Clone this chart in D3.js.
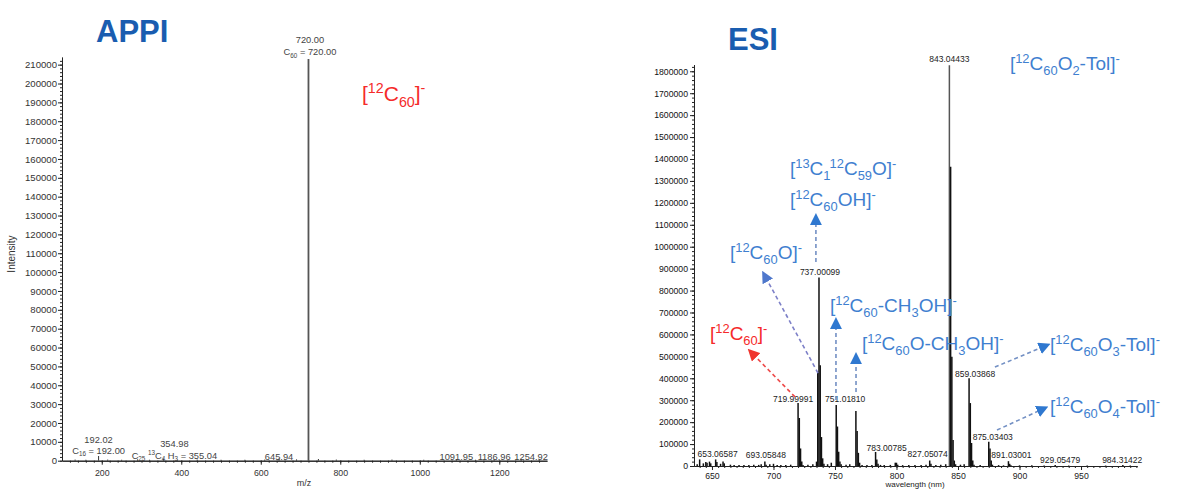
<!DOCTYPE html>
<html>
<head>
<meta charset="utf-8">
<script src="https://cdn.jsdelivr.net/npm/d3@7"></script>
<style>
body { margin: 0; background: #fff; }
svg { display: block; font-family: Arial, "Liberation Sans", sans-serif; }
</style>
</head>
<body>
<svg id="chart" width="1177" height="489"></svg>
<script>
// ---- APPI spectrum ----
var appiMz  = [133, 160, 192.02, 215, 250, 290, 320, 354.98, 390, 440, 500, 560, 610, 645.94, 690, 720.00, 745, 790, 860, 930, 1010, 1091.95, 1140, 1186.96, 1254.92, 1300];
var appiInt = [600, 500, 2500, 600, 500, 700, 500, 1200, 500, 600, 500, 500, 600, 1200, 700, 213000, 900, 600, 500, 600, 500, 900, 500, 900, 900, 500];
var appiTickY = d3.range(0, 210001, 10000);
var appiTickX = [200, 400, 600, 800, 1000, 1200];
var appiPeakMz = [720.00, 192.02, 354.98, 645.94, 1091.95, 1186.96, 1254.92];
var appiPeakText = [
  ["720.00", "C_{60} = 720.00"],
  ["192.02", "C_{16} = 192.00"],
  ["354.98", "C_{25} ^{13}C_{4} H_{3} = 355.04"],
  ["645.94"], ["1091.95"], ["1186.96"], ["1254.92"]
];
var appiIon = "[^{12}C_{60}]^{-}";

// ---- ESI spectrum ----
var esiMz = [638, 640, 643, 645, 646, 648, 649, 653, 654, 657, 659, 660, 665, 668, 672, 676, 680, 684, 688, 690, 693, 694, 697, 700, 703, 706, 710, 714,
  720, 721, 722, 723, 724, 728, 732, 735, 736, 737, 738, 739, 740, 741, 744, 747,
  751, 752, 753, 754, 755, 759, 762, 767, 768, 769, 770, 772, 776, 780, 783, 784, 785, 787, 790, 795,
  799, 800, 801, 805, 810, 815, 820, 824, 827, 828, 832, 836, 840,
  843, 844, 845, 846, 847, 848, 852, 855, 859, 860, 861, 862, 863, 868,
  875, 876, 877, 878, 883, 887, 891, 892, 893, 900, 910, 920, 929, 940, 955, 970, 984, 990];
var esiInt = [8000, 30000, 12000, 18000, 15000, 20000, 12000, 30000, 18000, 10000, 20000, 12000, 6000, 5000, 5000, 4000, 5000, 6000, 5000, 8000, 20000, 6000, 8000, 10000, 5000, 4000, 5000, 6000,
  287000, 219000, 80000, 20000, 5000, 6000, 8000, 20000, 430000, 860000, 460000, 132000, 35000, 10000, 8000, 15000,
  278000, 180000, 65000, 20000, 8000, 6000, 8000, 251000, 160000, 60000, 15000, 5000, 4000, 5000, 64000, 30000, 10000, 5000, 4000, 5000,
  15000, 15000, 6000, 4000, 5000, 4000, 5000, 6000, 25000, 10000, 5000, 6000, 8000,
  1828000, 1365000, 498000, 118000, 25000, 8000, 6000, 8000, 400000, 287000, 105000, 25000, 6000, 5000,
  111000, 80000, 25000, 6000, 4000, 3000, 22000, 10000, 3000, 3000, 3000, 2500, 5000, 2000, 2000, 2000, 4000, 2000];
var esiTickY = d3.range(0, 1800001, 100000);
var esiTickX = [650, 700, 750, 800, 850, 900, 950];
var esiPeakMz   = [843, 737, 720, 751, 783, 827, 859, 875, 891, 929, 984.3, 653, 693];
var esiPeakText = ["843.04433", "737.00099", "719.99991", "751.01810", "783.00785", "827.05074", "859.03868", "875.03403", "891.03001", "929.05479", "984.31422", "653.06587", "693.05848"];

// ESI ion annotations: text, anchor m/z, anchor intensity
var ionText = ["[^{12}C_{60}O_{2}-Tol]^{-}", "[^{13}C_{1}^{12}C_{59}O]^{-}", "[^{12}C_{60}OH]^{-}", "[^{12}C_{60}O]^{-}",
  "[^{12}C_{60}-CH_{3}OH]^{-}", "[^{12}C_{60}O-CH_{3}OH]^{-}", "[^{12}C_{60}]^{-}", "[^{12}C_{60}O_{3}-Tol]^{-}", "[^{12}C_{60}O_{4}-Tol]^{-}"];
var ionMz  = [892.2, 713.4, 713.4, 664.6, 745.9, 771.9, 648.4, 924.8, 924.8];
var ionInt = [1806000, 1327000, 1186000, 944000, 702000, 529000, 575000, 524000, 242000];
var ionKind = ["blue", "blue", "blue", "blue", "blue", "blue", "red", "blue", "blue"];

// arrows: from (m/z, intensity) to (m/z, intensity)
var arrowFromMz  = [717.5, 736.2, 734.5, 750.8, 767.1, 880.0, 881.7];
var arrowFromInt = [315000, 424000, 930000, 301000, 337000, 451000, 164000];
var arrowToMz    = [682.5, 693.1, 734.5, 750.8, 767.1, 920.7, 919.0];
var arrowToInt   = [515000, 866000, 1126000, 652000, 492000, 547000, 260000];
var arrowKind    = ["red", "purple", "blue", "blue", "blue", "blue", "blue"];

var svg = d3.select("#chart");
var colors = { blue: "#3f7fd0", red: "#f52a2a", purple: "#7c7fcc", title: "#1a5db0" };
var lineColors = { red: "#ee4a4a", purple: "#7d80c8", blue: "#7390c4" };
var headColors = { red: "#f0362f", purple: "#4f78cc", blue: "#2f78d0" };

function richText(g, str, x, y, size, color, anchor) {
  var t = g.append("text").attr("x", x).attr("y", y).attr("fill", color)
    .attr("font-size", size).attr("text-anchor", anchor || "start")
    .style("white-space", "pre");
  var re = /([\^_])\{([^}]*)\}|([^\^_]+)/g, m, cur = 0;
  while ((m = re.exec(str))) {
    var shift = 0, fs = size, txt = m[3];
    if (m[1]) {
      txt = m[2];
      fs = size * 0.68;
      shift = m[1] === "^" ? -size * 0.38 : size * 0.27;
    }
    t.append("tspan").attr("font-size", fs).attr("dy", shift - cur).text(txt);
    cur = shift;
  }
  return t;
}

function styleAxis(g, size, color) {
  g.selectAll("text").attr("font-size", size).attr("fill", color)
    .attr("font-family", "Arial, 'Liberation Sans', sans-serif");
  g.selectAll("line").attr("stroke", "#222");
  g.select(".domain").attr("stroke", "#222");
}

// ================= APPI panel =================
var ax = d3.scaleLinear().domain([100, 1320]).range([62, 547]);
var ay = d3.scaleLinear().domain([0, 214000]).range([460.7, 57.1]);

svg.append("text").attr("x", 96).attr("y", 41.5).attr("font-size", 31)
  .attr("font-weight", "bold").attr("fill", colors.title).text("APPI");

var appi = svg.append("g");

appi.append("g").attr("transform", "translate(62,0)")
  .call(d3.axisLeft(ay).tickValues(d3.range(0, 214000, 2000)).tickSize(2).tickSizeOuter(0).tickFormat(""))
  .call(styleAxis, 9, "#333");
appi.append("g").attr("transform", "translate(62,0)")
  .call(d3.axisLeft(ay).tickValues(appiTickY).tickSize(4).tickPadding(1).tickSizeOuter(0).tickFormat(d3.format("d")))
  .call(styleAxis, 9.6, "#333");

appi.append("g").attr("transform", "translate(0,460.7)")
  .call(d3.axisBottom(ax).tickValues(d3.range(120, 1320, 20)).tickSize(2).tickSizeOuter(0).tickFormat(""))
  .call(styleAxis, 9, "#333");
appi.append("g").attr("transform", "translate(0,460.7)")
  .call(d3.axisBottom(ax).tickValues(appiTickX).tickSize(4).tickPadding(5).tickSizeOuter(0).tickFormat(d3.format("d")))
  .call(styleAxis, 8.8, "#333");

appi.selectAll("line.peak").data(appiMz).enter().append("line")
  .attr("class", "peak")
  .attr("x1", function (d) { return ax(d); }).attr("x2", function (d) { return ax(d); })
  .attr("y1", ay(0))
  .attr("y2", function (d, i) { return ay(appiInt[i]); })
  .attr("stroke", function (d, i) { return appiInt[i] > 100000 ? "#555" : "#333"; })
  .attr("stroke-width", function (d, i) { return appiInt[i] > 100000 ? 1.8 : 1; });

// peak labels (x nudge in px, then baseline of each line)
var appiNudge = [[1.5, 43, 55], [0, 442.5, 453.5], [11, 447, 458.5], [0, 459.5], [0, 459.5], [0, 459.5], [10, 459.5]];
appiPeakMz.forEach(function (mz, i) {
  appiPeakText[i].forEach(function (s, j) {
    richText(appi, s, ax(mz) + appiNudge[i][0], appiNudge[i][1 + j], 9.3, "#444", "middle");
  });
});

richText(appi, appiIon, ax(854.6), ay(190700), 21, colors.red, "start");

appi.append("text").attr("transform", "translate(15,254) rotate(-90)")
  .attr("text-anchor", "middle").attr("font-size", 10).attr("fill", "#333").text("Intensity");
appi.append("text").attr("x", 304).attr("y", 486).attr("text-anchor", "middle")
  .attr("font-size", 9).attr("fill", "#333").text("m/z");

// ================= ESI panel =================
var ex = d3.scaleLinear().domain([635.4, 995.5]).range([694, 1137]);
var ey = d3.scaleLinear().domain([0, 1830000]).range([466, 64.7]);

svg.append("text").attr("x", 728).attr("y", 50).attr("font-size", 31)
  .attr("font-weight", "bold").attr("fill", colors.title).text("ESI");

var esi = svg.append("g");

esi.append("g").attr("transform", "translate(694,0)")
  .call(d3.axisLeft(ey).tickValues(d3.range(0, 1830000, 20000)).tickSize(2).tickSizeOuter(0).tickFormat(""))
  .call(styleAxis, 9, "#111");
esi.append("g").attr("transform", "translate(694,0)")
  .call(d3.axisLeft(ey).tickValues(esiTickY).tickSize(4).tickPadding(2).tickSizeOuter(0).tickFormat(d3.format("d")))
  .call(styleAxis, 8.7, "#111");

esi.append("g").attr("transform", "translate(0,466)")
  .call(d3.axisBottom(ex).tickValues(d3.range(640, 996, 5)).tickSize(2).tickSizeOuter(0).tickFormat(""))
  .call(styleAxis, 9, "#111");
esi.append("g").attr("transform", "translate(0,466)")
  .call(d3.axisBottom(ex).tickValues(esiTickX).tickSize(4).tickPadding(3).tickSizeOuter(0))
  .call(styleAxis, 8.7, "#222");

esi.append("text").attr("x", 915).attr("y", 486.5).attr("text-anchor", "middle")
  .attr("font-size", 8).attr("fill", "#222").text("wavelength (nm)");

esi.selectAll("line.peak").data(esiMz).enter().append("line")
  .attr("class", "peak")
  .attr("x1", function (d) { return ex(d); }).attr("x2", function (d) { return ex(d); })
  .attr("y1", ey(0))
  .attr("y2", function (d, i) { return ey(esiInt[i]); })
  .attr("stroke", function (d) { return d === 843 ? "#555" : "#111"; })
  .attr("stroke-width", 1.5);

// peak labels: x nudge and baseline y
var esiNudge = [[0, 62], [1, 275], [-5, 401.5], [9, 402], [11, 450.5], [-2, 456.5], [6, 377], [4, 440], [3, 458], [5, 463], [-1, 463], [2, 457], [1, 457.5]];
esiPeakMz.forEach(function (mz, i) {
  esi.append("text").attr("x", ex(mz) + esiNudge[i][0]).attr("y", esiNudge[i][1])
    .attr("text-anchor", "middle").attr("font-size", 8.5).attr("fill", "#222")
    .text(esiPeakText[i]);
});

// arrow markers
var defs = svg.append("defs");
Object.keys(headColors).forEach(function (k) {
  defs.append("marker").attr("id", "head-" + k)
    .attr("viewBox", "0 0 10 10").attr("refX", 5).attr("refY", 5)
    .attr("markerWidth", 12).attr("markerHeight", 12)
    .attr("markerUnits", "userSpaceOnUse").attr("orient", "auto")
    .append("path").attr("d", "M0,0 L10,5 L0,10 Z").attr("fill", headColors[k]);
});

arrowFromMz.forEach(function (mz, i) {
  esi.append("line")
    .attr("x1", ex(mz)).attr("y1", ey(arrowFromInt[i]))
    .attr("x2", ex(arrowToMz[i])).attr("y2", ey(arrowToInt[i]))
    .attr("stroke", lineColors[arrowKind[i]]).attr("stroke-width", 1.6)
    .attr("stroke-dasharray", "4,3")
    .attr("marker-end", "url(#head-" + arrowKind[i] + ")");
});

ionText.forEach(function (s, i) {
  richText(esi, s, ex(ionMz[i]), ey(ionInt[i]), 19, colors[ionKind[i]], "start");
});
</script>
</body>
</html>
